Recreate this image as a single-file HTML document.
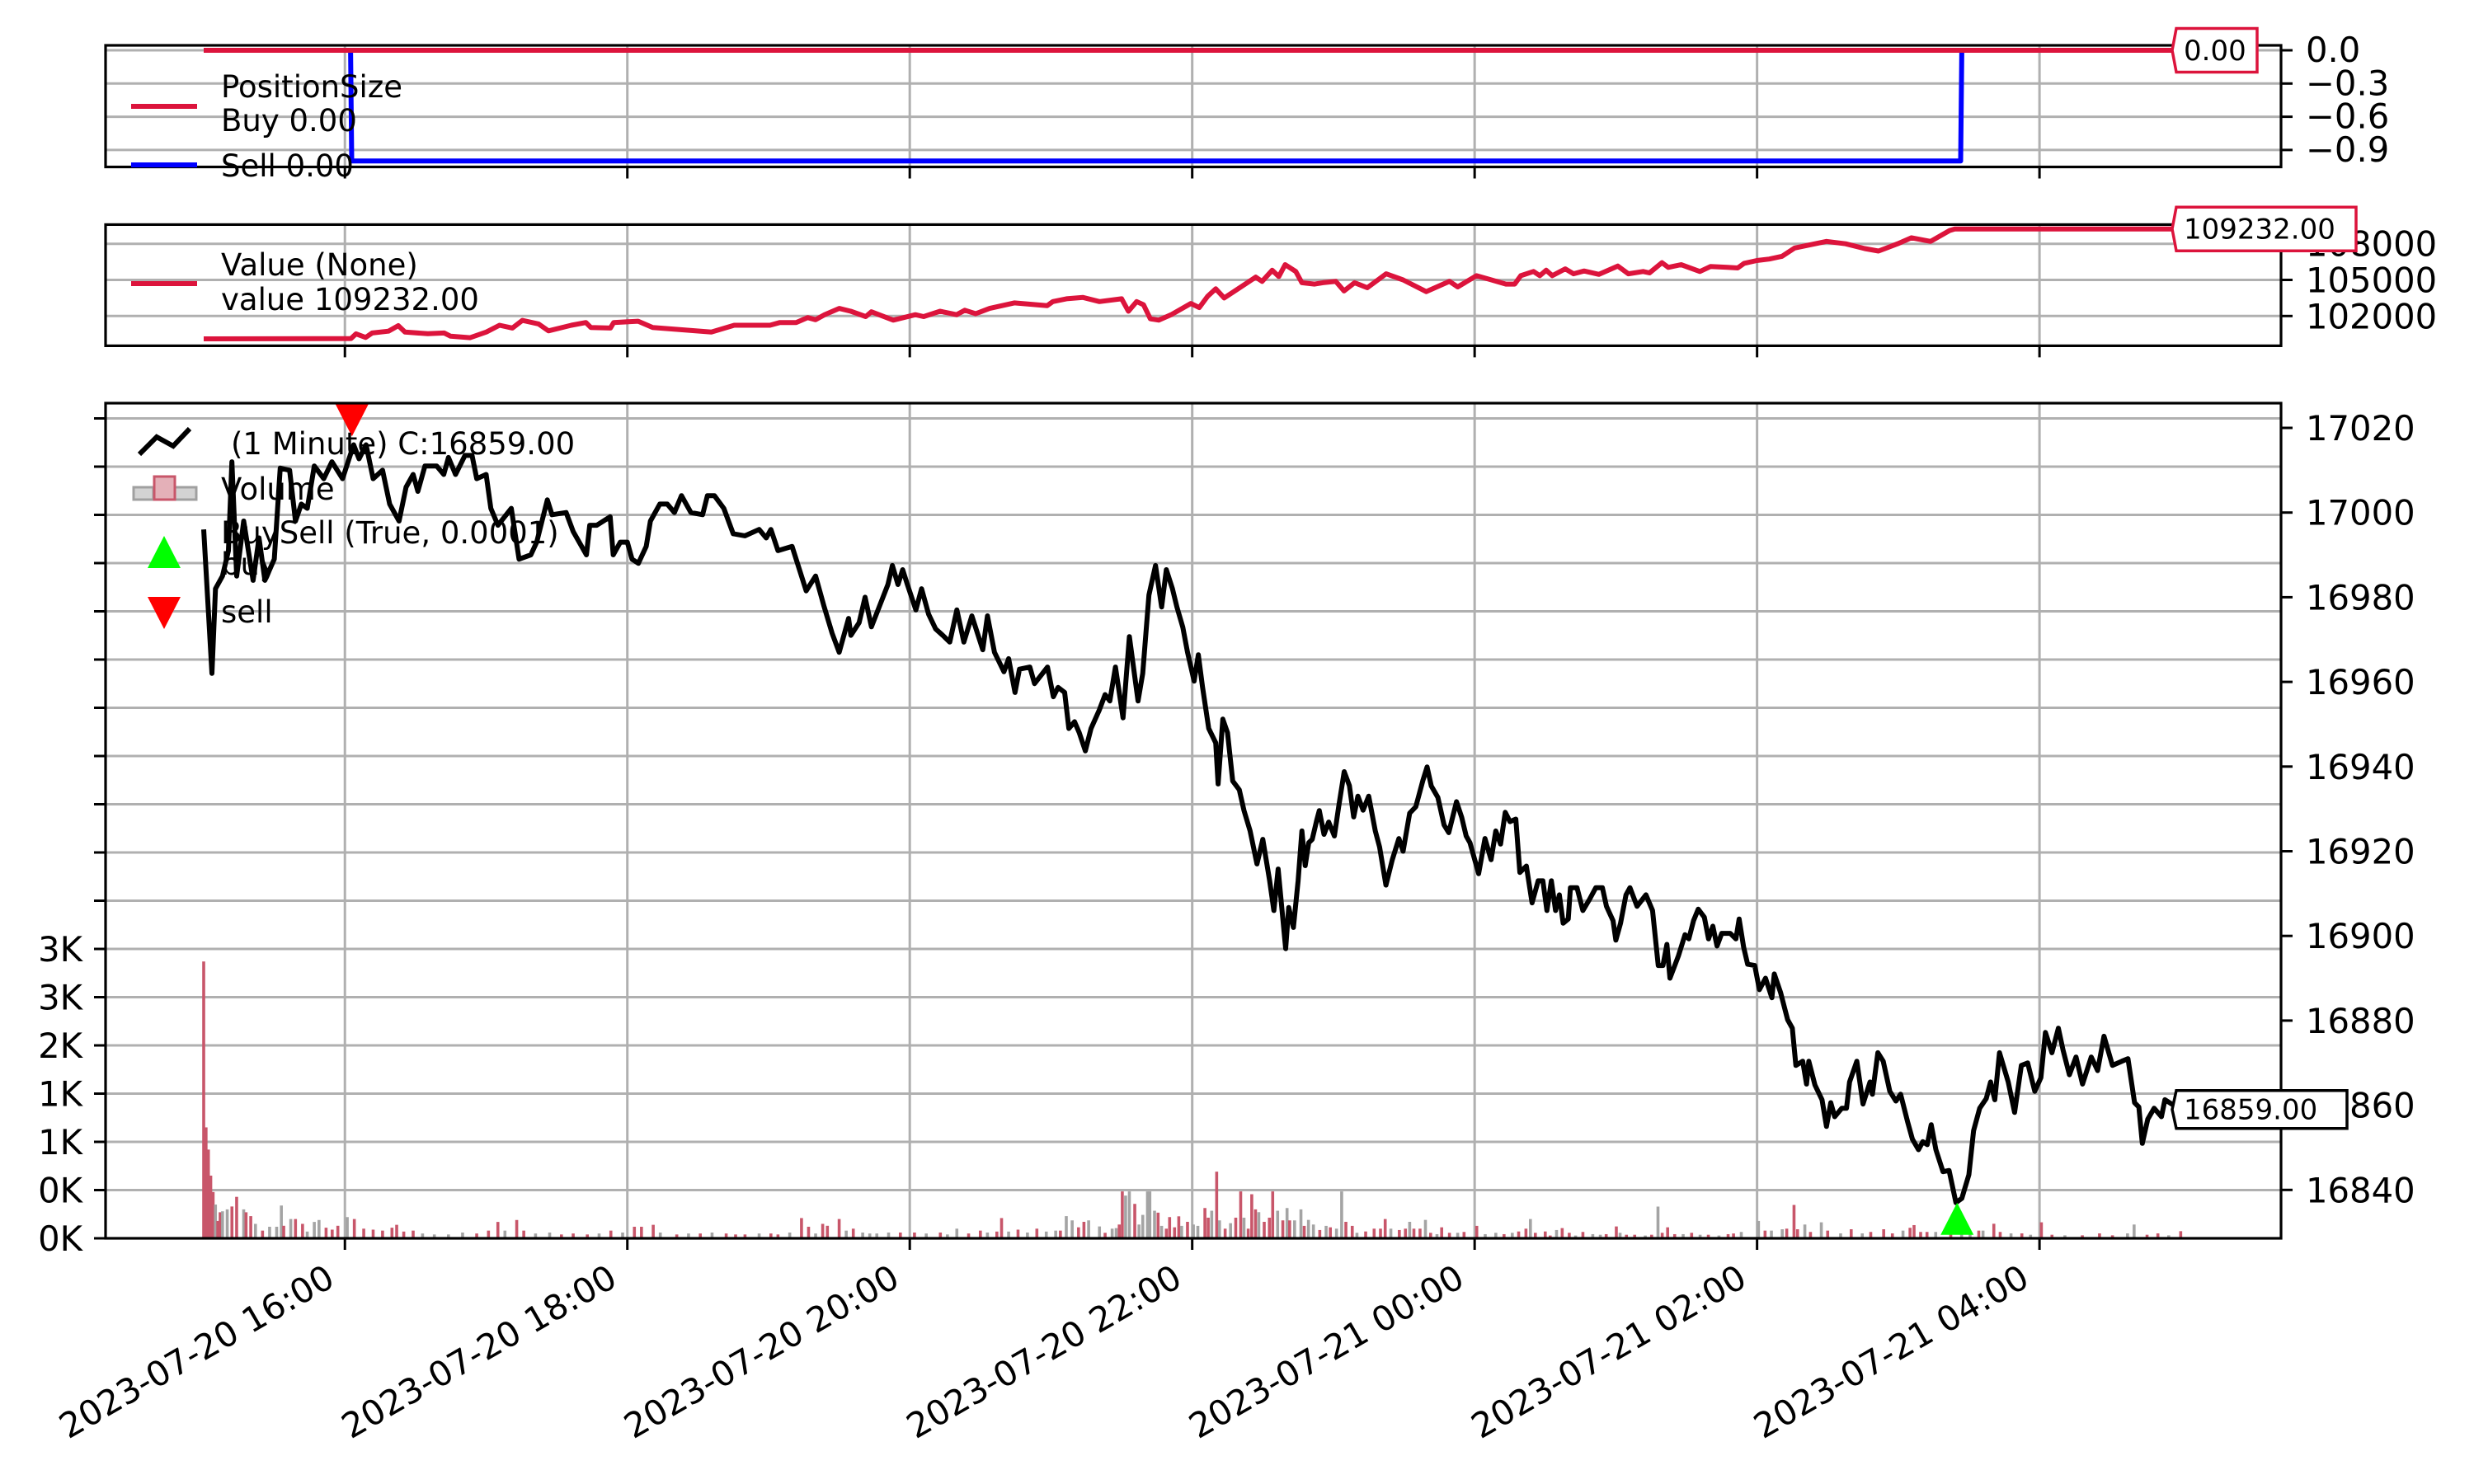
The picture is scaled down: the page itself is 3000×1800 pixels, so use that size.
<!DOCTYPE html>
<html><head><meta charset="utf-8"><title>Backtest chart</title>
<style>
html,body{margin:0;padding:0;background:#fff;}
svg{display:block;}
text{font-family:"DejaVu Sans","Liberation Sans",sans-serif;fill:#000;}
</style></head>
<body>
<svg id="chart" xmlns="http://www.w3.org/2000/svg" width="3000" height="1800" viewBox="0 0 3000 1800">
<rect x="0" y="0" width="3000" height="1800" fill="#fff"/>
<g id="grid"></g>
<g id="series"></g>
<g id="frames"></g>
<g id="labels"></g>
<g id="legends"></g>
</svg>
<script>
// ---- data ----
const xTickLabels = ["2023-07-20 16:00","2023-07-20 18:00","2023-07-20 20:00","2023-07-20 22:00","2023-07-21 00:00","2023-07-21 02:00","2023-07-21 04:00"];
const xTickMinutes = [60,180,300,420,540,660,780];
const posTicks = [0,-0.3,-0.6,-0.9];
const posTickLabels = ["0.0","\u22120.3","\u22120.6","\u22120.9"];
const valTicks = [108000,105000,102000];
const priceTicks = [17020,17000,16980,16960,16940,16920,16900,16880,16860,16840];
const volTickLabels = ["0K","0K","1K","1K","2K","3K","3K"];
const volTicks = [0,500,1000,1500,2000,2500,3000];

const buyT = [0,839];
const buyV = [0,0];
const sellT = [0,62.4,62.9,746.5,747,839];
const sellV = [0,0,-1,-1,0,0];

const valT = [0,62.6,64.7,68.8,71.6,78.5,82.7,85.5,95.2,102.2,104.9,113.2,120.1,125.7,131.2,135.4,142.3,146.5,156.2,162.4,164.5,172.8,174.2,184.6,190.8,200.5,215.7,225.4,240.6,244.8,251.7,256.6,260,263.8,270,274.9,281.3,283.7,293,302.4,305.9,312.9,319.9,323.4,328,333.9,344.4,358.4,360.8,366.6,373.6,380.6,390,392.9,396.4,399.3,402.2,405.8,411,419.4,423,426.5,430,433.6,440.7,447,449.7,454,456.8,459.5,464,466.6,472,475.5,481,484.5,489,494.4,502.4,509.6,519.4,529.3,532.8,540.8,546.2,553.3,557,559.6,565,567.7,570.4,573,578.5,582,586.5,592.8,600.8,605.3,611.6,614.3,619.6,622.3,627.7,635.7,640.2,647.4,651.8,654.5,659.9,665.2,670.6,676,689.5,697.6,705.7,711.6,719.7,725.6,733.7,741.8,744,839];
const valV = [100100,100130,100520,100220,100590,100740,101200,100670,100530,100590,100320,100200,100670,101230,101000,101640,101340,100770,101230,101460,101050,101000,101460,101570,101050,100900,100670,101230,101230,101460,101460,101870,101690,102110,102630,102400,101950,102350,101660,102110,101950,102400,102110,102480,102190,102630,103090,102860,103200,103430,103540,103200,103430,102400,103200,102940,101770,101660,102100,103040,102700,103620,104260,103500,104420,105230,104880,105800,105280,106270,105700,104770,104650,104770,104880,104080,104770,104350,105510,105000,104030,104880,104420,105350,105050,104650,104650,105350,105700,105350,105800,105350,105920,105510,105740,105460,106150,105510,105700,105580,106430,106040,106270,105700,106110,106040,105990,106380,106610,106730,106960,107650,108200,108000,107600,107400,108000,108500,108200,109100,109232,109232];

const priceT = [0,3.5,5,8,10.5,12,14,17,21,23.5,26,30,32.5,36.5,39,41.5,44,47,51,54.5,59,63.7,66,69,72,76,79,83,86,89,91,94,99,102,104,107,111,114,116,120,122,125,130.7,134,139,141.5,146,148,154,157,162.6,164,167,172.7,174,177,180,182,184.7,188,189.8,193.8,197,200,203,207,212,214,217,221,225,230,236,239,241,244,250,256,260,263.5,267,270,274,275,278.5,281,283.7,287,290.7,292.6,295,297,299,302.6,305,308,311,314,317,320,323,326.4,331,333,336,340,342,344.7,346.6,351,353,358.5,361,363,365.8,367.6,370,372,374.6,377,380.5,383,385,387.4,390.6,393.3,397,399,401.6,404.4,407,409,411.6,413.5,416,418,420.8,422.6,424.4,427,430,431,433,435,437.2,440,442,444.6,447.5,450,452.9,454.7,456.5,459.7,461,463,465,466.6,468,469.5,471,473,474,476,478,480.4,482.2,484.6,486.8,488.6,490.4,492.6,495,497.8,499.6,502.3,505,507.8,509.6,512.4,515,518,519.8,521.6,524.4,527,529,532.3,534.5,536.4,538,541.7,544.4,547,549,551,553,555,557.5,559.2,562,564.4,567,569,570.7,572.6,574.4,576,577.6,579.8,580.7,583.5,586,588.8,591.5,594.3,596,598.8,600,602,604.3,606,609,612.8,615.6,618,620,621.7,623,626.6,629.4,631,633,635,637.6,639.4,641.2,643,645,648.6,651,652.4,654.3,656,659,661,663.6,666.3,667.3,670,673,675,676.5,679.4,681,682,684.6,687.6,689.5,691.3,693,696,698,699.3,702.4,705,708,709,711.3,713.6,716.4,719,721,724,726,728.6,730.4,732.3,734,736,739,741.6,744.5,747,750,752,754.6,757.4,759.2,761,763,766.7,769.4,772.3,775,778,780.6,782.5,785.3,788,790,792.7,795.5,798.3,802,804.7,807.4,811,815,817.6,820.4,822.2,823.7,826,828.7,831.8,833.3,837,839];
const priceV = [16996,16962,16982,16985,16991,17012,16985,16998,16984,16994,16984,16989,17010.5,17010,16998,17002,17001,17011,17008,17012,17008,17016,17012.7,17016,17008,17010,17002,16998,17006,17009,17005,17011,17011,17009,17013,17009,17013.5,17013.5,17008,17009,17001,16997,17001,16989,16990,16993,17003,16999.5,17000,16995.5,16990,16997,16997,16999,16990,16993,16993,16989,16988,16992,16998,17002,17002,17000,17004,17000,16999.5,17004,17004,17001,16995,16994.5,16996,16994,16996,16991,16992,16981.5,16985,16978,16971.5,16967,16975,16971,16974,16980,16973,16977.7,16983,16987.5,16983,16986.5,16983,16977,16982,16976,16972.5,16971,16969.4,16977,16969.4,16975.6,16967.6,16975.6,16967,16962.4,16965.5,16957.5,16963,16963.5,16959.6,16963.5,16956.5,16958.7,16957.5,16949,16950.6,16948,16943.7,16949,16953.3,16957,16955.5,16963.5,16951.5,16970.7,16955.5,16962,16980.5,16987.5,16977.7,16986.5,16982,16977.7,16972.9,16967,16960.2,16966.4,16958.8,16949,16945.6,16935.9,16951.2,16948,16936.6,16934.5,16929.6,16924.8,16917,16922.8,16913,16906,16915.8,16897,16906.7,16902,16913,16924.8,16916.6,16922,16922.8,16927.5,16929.6,16924,16926.9,16923.6,16930.4,16938.8,16935.5,16928.1,16933,16929.7,16933,16924.8,16921,16912,16918,16923,16920,16929,16930.5,16936.7,16939.9,16935.4,16932.7,16926.2,16924.4,16931.7,16928,16923.6,16922,16914.7,16923,16918,16924.8,16921.7,16929.2,16927,16927.6,16915,16916.5,16907.8,16913,16913,16906,16913,16906,16909.7,16903,16904,16911.4,16911.4,16906,16908.6,16911.4,16911.4,16907,16903.6,16899,16903,16909.7,16911.4,16907,16909.7,16906,16893,16893,16898,16890,16895.3,16900.3,16899.3,16903.6,16906.3,16904.4,16899.3,16902.3,16897.6,16900.6,16900.6,16899.3,16904,16897.3,16893.3,16893,16887.3,16890,16885.4,16891,16886.6,16880.2,16878.2,16869.4,16870.4,16865,16870.4,16864.8,16861.3,16855,16860.6,16857.3,16859.3,16859.3,16865.5,16870.4,16860.3,16865.5,16862.6,16872.4,16870.4,16863.3,16861,16862.6,16856,16852,16849.5,16851.4,16850.7,16855.4,16849.5,16844.3,16844.6,16837,16838,16843.6,16854,16859.3,16861.6,16865.5,16861.3,16872.4,16865.5,16858.3,16869.4,16870,16863.3,16866.5,16877.2,16872.4,16878.2,16873,16867.2,16871.4,16865,16871.4,16868.2,16876.3,16869.4,16870.4,16871,16860.6,16859.6,16851,16856.7,16859.3,16857.3,16861.3,16860,16859];

const volT = [0,1,2,3,4,5,6,7,8,10,12,14,17,18,20,22,25,28,31,33,34,37,39,42,44,47,49,52,54.6,57,61,64,68,72,76,80,82,85,89,93,98,104,110,116,121,125,128,133,136,141,147,152,157,163,168,173,178,183,186,191,194,201,206,211,216,222,226,230,236,241,244,249,254,257,260,263,265,270,273,276,280,283,286,291,296,302,307,313,316,320,325,330,333,337,339,342,346,350,354,358,362,364,366.5,369,371.7,374,376,380.6,383,386,387.7,389,390.3,391.7,393.3,395.6,397.4,399,401,402,404,405.5,407,409,410.4,412.5,414.3,415.5,418,420.5,422.4,425.4,426.8,428.3,430.4,431.6,434,436.3,438.5,440.6,442,443.8,445.3,446.9,448.3,450.6,452.8,454.2,456.3,458.5,460.3,461.4,463.5,466.2,467.6,469.4,471.5,474.2,476.9,478.7,481.3,483.5,485.3,488,490,493.7,497.3,500,502,504.4,508,510.6,512.4,514.2,516.8,519.1,521.3,524,526,529.3,532.8,535.5,540.9,544.5,549,552.5,556,558.7,561.8,563.7,565.8,570,572.1,574.8,577.2,580.2,582.9,586,590.2,593.4,595.9,600.2,601.8,604.5,608,612.5,615.2,617.9,619.7,622,625,628.6,632.2,635.8,639.3,643.8,647.7,650,653.3,660.6,663.4,666.1,670.7,672.6,675.7,677.2,680.3,682.7,687.3,690,695.5,700,704.7,708.3,713.8,717.5,722,725,726.7,729.5,732.2,735.9,742.3,746.9,750.5,754.2,756,760.6,763.3,767.9,772.5,776.2,780.8,785.3,790.8,798.2,805.5,811,817.4,820.2,825.7,830.3,834.9,840];
const volV = [2870,1150,920,650,480,350,180,270,280,300,330,430,300,270,230,150,80,120,120,340,130,200,200,150,70,170,190,110,90,130,220,200,100,90,80,110,140,70,80,50,40,40,60,50,80,170,80,190,80,50,60,40,50,40,50,80,60,120,120,140,60,40,50,50,60,50,40,40,50,50,40,60,210,120,50,150,130,200,80,100,60,50,50,60,60,60,50,60,40,100,50,80,60,70,210,70,90,60,100,70,80,80,230,186,114,171,186,123,57,100,106,143,486,443,486,357,143,243,486,486,286,266,129,100,220,114,228,129,171,143,129,314,214,286,691,186,100,157,214,486,214,100,457,300,271,171,214,486,286,186,314,186,186,300,129,191,143,86,129,114,100,486,171,129,57,71,100,100,200,100,86,100,171,100,100,191,57,43,114,57,57,66,129,43,57,43,57,71,100,200,57,71,29,86,106,57,29,66,43,37,43,123,57,37,37,29,37,329,57,114,43,43,57,37,37,29,43,50,66,180,80,80,94,100,346,94,143,66,166,80,51,94,51,66,94,51,80,109,137,66,66,66,80,109,80,80,80,151,66,51,51,37,166,37,31,31,51,31,51,143,37,51,31,74];
const volUp = [1,1,1,1,1,0,1,1,0,0,1,1,0,1,1,0,1,0,0,0,1,0,1,1,0,0,0,1,1,1,0,1,1,1,1,1,1,1,1,0,0,0,0,1,1,1,0,1,1,0,0,1,1,1,0,1,0,1,1,1,0,1,0,1,0,1,1,1,0,1,1,0,1,1,0,1,1,1,0,1,0,0,0,0,1,1,0,1,0,0,1,1,0,1,1,0,1,0,1,0,0,1,0,0,1,1,0,0,1,0,0,1,1,0,0,1,0,0,0,0,0,1,0,1,1,1,1,0,1,0,0,1,1,0,1,0,1,0,1,1,0,1,1,1,0,1,1,1,0,1,0,1,0,0,1,0,0,1,0,1,0,0,1,1,0,1,1,1,1,0,1,1,0,1,1,0,1,0,1,1,0,1,1,0,0,1,0,1,1,0,1,1,1,0,1,1,0,1,0,0,1,1,0,1,1,0,1,0,1,1,1,0,1,0,1,0,1,1,0,0,1,0,0,1,1,1,0,1,0,1,0,1,0,1,1,1,0,1,1,1,1,0,1,0,0,1,0,1,1,0,1,0,1,1,0,1,1,1,0,0,1,1,0,1,0];

const buyMarkT = [745];
const buyMarkP = [16837];
const sellMarkT = [63];
const sellMarkP = [17018];

// ---- axes ----
const X0 = 247, PXMIN = 2.854;
const xOf = t => X0 + t*PXMIN;
const posY = v => 61 - v*(40.3/0.3);
const valY = v => 383.3 - (v-102000)*(43.8/3000);
const priceY = p => 519 - (p-17020)*(102.7/20);
const volY = v => 1502 - v*(58.5/500);

const NS = "http://www.w3.org/2000/svg";
function mk(tag, attrs, parent){
  const el = document.createElementNS(NS, tag);
  for (const k in attrs) el.setAttribute(k, attrs[k]);
  parent.appendChild(el);
  return el;
}
const grid = document.getElementById('grid');
const series = document.getElementById('series');
const frames = document.getElementById('frames');
const labels = document.getElementById('labels');
const legends = document.getElementById('legends');

const L = 128, R = 2766;
const panels = [{top:55,bot:202.5,name:'position-panel'},{top:272.4,bot:419.4,name:'value-panel'},{top:489,bot:1502,name:'price-panel'}];
const GRID = "#b0b0b0";

panels.forEach(p => {
  xTickMinutes.forEach((m,i) => {
    const x = xOf(m);
    const g = mk('line',{x1:x,x2:x,y1:p.top,y2:p.bot,stroke:GRID,'stroke-width':3},grid);
    
    
    const tk = mk('line',{x1:x,x2:x,y1:p.bot,y2:p.bot+14,stroke:'#000','stroke-width':3},frames);
    
    
  });
});
posTicks.forEach((v,i) => {
  const y = posY(v);
  const g = mk('line',{x1:L,x2:R,y1:y,y2:y,stroke:GRID,'stroke-width':3},grid);
  
  
  const tk = mk('line',{x1:R,x2:R+14,y1:y,y2:y,stroke:'#000','stroke-width':3},frames);
  
  
  const t = mk('text',{x:R+30,y:y+14,'font-size':41.7},labels);
  t.textContent = posTickLabels[i];
  
  
});
valTicks.forEach(v => {
  const y = valY(v);
  const g = mk('line',{x1:L,x2:R,y1:y,y2:y,stroke:GRID,'stroke-width':3},grid);
  
  
  const tk = mk('line',{x1:R,x2:R+14,y1:y,y2:y,stroke:'#000','stroke-width':3},frames);
  
  
  const t = mk('text',{x:R+30,y:y+15,'font-size':41.7},labels);
  t.textContent = String(v);
  
  
});
for (let k=0;k<18;k++){
  const y = volY(k*500);
  if (k>0 && y>489){
    const g = mk('line',{x1:L,x2:R,y1:y,y2:y,stroke:GRID,'stroke-width':3},grid);
    
    
  }
  const tk = mk('line',{x1:L-14,x2:L,y1:y,y2:y,stroke:'#000','stroke-width':3},frames);
  
  
}
volTicks.forEach((v,i) => {
  const t = mk('text',{x:100,y:volY(v)+15,'font-size':41.7,'text-anchor':'end'},labels);
  t.textContent = volTickLabels[i];
  
  
});
priceTicks.forEach(p => {
  const y = priceY(p);
  const tk = mk('line',{x1:R,x2:R+14,y1:y,y2:y,stroke:'#000','stroke-width':3},frames);
  
  
  const t = mk('text',{x:R+30,y:y+15,'font-size':41.7},labels);
  t.textContent = String(p);
  
  
});
xTickMinutes.forEach((m,i) => {
  const x = xOf(m);
  const t = mk('text',{transform:`translate(${x-10},1558) rotate(-30)`,'font-size':41.7,'text-anchor':'end'},labels);
  t.textContent = xTickLabels[i];
  
  
});

volT.forEach((t,i) => {
  const x = xOf(t), y = volY(volV[i]);
  const b = mk('rect',{x:x-1.8,y:y,width:3.6,height:1502-y,fill:volUp[i]?'#c8566a':'#a4a4a4'},series);
  
  
});

function poly(ts, vs, fx, fy, color, w, name){
  const pts = ts.map((t,i)=>fx(t).toFixed(1)+','+fy(vs[i]).toFixed(1)).join(' ');
  const el = mk('polyline',{points:pts,fill:'none',stroke:color,'stroke-width':w,'stroke-linejoin':'round'},series);
  
  
}
poly(priceT, priceV, xOf, priceY, '#000', 6, 'price-line');
poly(valT, valV, xOf, valY, '#dc143c', 6, 'value-line');
poly(sellT, sellV, xOf, posY, '#0000ff', 6, 'sell-position-line');
poly(buyT, buyV, xOf, posY, '#dc143c', 6, 'buy-position-line');

buyMarkT.forEach((t,i) => {
  const x = xOf(t), y = priceY(buyMarkP[i]);
  const m = mk('polygon',{points:`${x},${y} ${x-20},${y+39} ${x+20},${y+39}`,fill:'#00ff00'},series);
  
  
});
sellMarkT.forEach((t,i) => {
  const x = xOf(t), y = priceY(sellMarkP[i]);
  const m = mk('polygon',{points:`${x},${y} ${x-20},${y-39} ${x+20},${y-39}`,fill:'#ff0000'},series);
  
  
});

panels.forEach(p => {
  const r = mk('rect',{x:L,y:p.top,width:R-L,height:p.bot-p.top,fill:'none',stroke:'#000','stroke-width':3.2},frames);
  
  
});

function tag(x1,x2,yc,h,color,txt,name){
  const g = mk('g',{},labels);
  
  
  mk('polygon',{points:`${x1+5},${yc-h/2} ${x2},${yc-h/2} ${x2},${yc+h/2} ${x1+5},${yc+h/2} ${x1},${yc}`,fill:'#fff',stroke:color,'stroke-width':3.5},g);
  const t = mk('text',{x:x1+14,y:yc+12,'font-size':34},g);
  t.textContent = txt;
}
tag(2634,2737,posY(buyV[buyV.length-1]),53,'#dc143c','0.00','position-tag');
tag(2634,2857,valY(valV[valV.length-1]),53,'#dc143c','109232.00','value-tag');
tag(2634,2846,priceY(priceV[priceV.length-1]),46,'#000','16859.00','price-tag');

function txt(x,y,s,name){
  const t = mk('text',{x:x,y:y,'font-size':37},legends);
  t.textContent = s;
  
  
}
let e;
e = mk('line',{x1:159,x2:239,y1:129,y2:129,stroke:'#dc143c','stroke-width':6},legends);


e = mk('line',{x1:159,x2:239,y1:200,y2:200,stroke:'#0000ff','stroke-width':6},legends);


txt(268,118,'PositionSize','legend-positionsize-title');
txt(268,159,'Buy 0.00','legend-buy-entry');
txt(268,214,'Sell 0.00','legend-sell-entry');
e = mk('line',{x1:159,x2:239,y1:344,y2:344,stroke:'#dc143c','stroke-width':6},legends);


txt(268,334,'Value (None)','legend-value-title');
txt(268,376,'value 109232.00','legend-value-entry');
e = mk('polyline',{points:'169,551 190,530 210,541 230,520',fill:'none',stroke:'#000','stroke-width':6},legends);


e = mk('rect',{x:162,y:591,width:24,height:15,fill:'#d3d3d3',stroke:'#a0a0a0','stroke-width':3},legends);


e = mk('rect',{x:212,y:591,width:26,height:15,fill:'#d3d3d3',stroke:'#a0a0a0','stroke-width':3},legends);


e = mk('rect',{x:187,y:578,width:25,height:28,fill:'#e4b0b8',stroke:'#c8566a','stroke-width':3},legends);


e = mk('polygon',{points:'199,650 179,689 219,689',fill:'#00ff00'},legends);


e = mk('polygon',{points:'199,763 179,724 219,724',fill:'#ff0000'},legends);


txt(280,551,'(1 Minute) C:16859.00','legend-price-entry');
txt(268,606,'Volume','legend-volume-entry');
txt(268,659,'BuySell (True, 0.0001)','legend-buysell-title');
txt(268,697,'buy','legend-buy-marker-entry');
txt(268,755,'sell','legend-sell-marker-entry');
</script>
</body></html>
